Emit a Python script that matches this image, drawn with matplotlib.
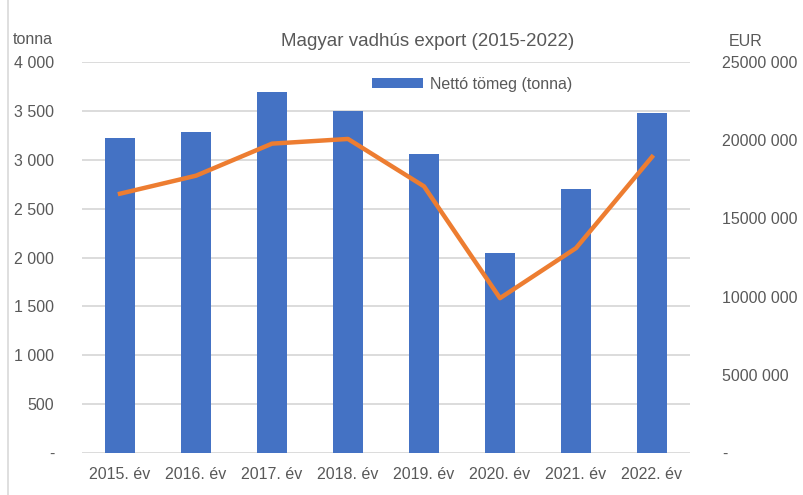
import matplotlib
matplotlib.use("Agg")
import numpy as np
from matplotlib import pyplot as plt
from matplotlib.lines import Line2D

years = ["2015. év", "2016. év", "2017. év", "2018. év",
         "2019. év", "2020. év", "2021. év", "2022. év"]
tonna = [3225, 3280, 3695, 3494, 3055, 2050, 2702, 3480]
eur = [16.58e6, 17.73e6, 19.78e6, 20.08e6, 17.05e6, 9.9e6, 13.1e6, 18.93e6]

left_ticks = [0, 500, 1000, 1500, 2000, 2500, 3000, 3500, 4000]
left_labels = ["-", "500", "1 000", "1 500", "2 000", "2 500", "3 000", "3 500", "4 000"]
right_ticks = [0, 5e6, 10e6, 15e6, 20e6, 25e6]
right_labels = ["-", "5000 000", "10000 000", "15000 000", "20000 000", "25000 000"]

grey = "#595959"
plt.rcParams["font.family"] = ["Liberation Sans", "DejaVu Sans"]

fig = plt.figure(figsize=(8.04, 4.95), dpi=100)
ax = fig.add_axes([82 / 804, 42 / 495, 608 / 804, 391 / 495])
x = np.arange(len(years))

bars = ax.bar(x, tonna, width=0.4, color="#4472C4", label="Nettó tömeg (tonna)", zorder=3)
ax.set_xlim(-0.5, len(years) - 0.5)
ax.set_ylim(0, 4000)
ax.set_yticks(left_ticks)
ax.set_yticklabels(left_labels)
ax.set_xticks(x)
ax.set_xticklabels(years)
ax.grid(axis="y", color="#D9D9D9", linewidth=1.3, zorder=0)
ax.tick_params(axis="both", length=0, labelsize=11.5, colors=grey)
ax.tick_params(axis="y", pad=20)
ax.tick_params(axis="x", pad=10)
for s in ax.spines.values():
    s.set_visible(False)

ax2 = ax.twinx()
ax2.plot(x, eur, color="#ED7D31", linewidth=3.2, solid_joinstyle="round", zorder=4)
ax2.set_ylim(0, 25e6)
ax2.set_yticks(right_ticks)
ax2.set_yticklabels(right_labels)
ax2.tick_params(axis="y", length=0, labelsize=11.5, colors=grey, pad=23)
for s in ax2.spines.values():
    s.set_visible(False)

ax2.legend([bars], ["Nettó tömeg (tonna)"], loc="center",
           bbox_to_anchor=(472 / 804, 1 - 84 / 495), bbox_transform=fig.transFigure,
           frameon=False, fontsize=11.5, labelcolor=grey, handlelength=3.2, handleheight=0.55,
           handletextpad=0.4)

fig.text(428 / 804, 1 - 42 / 495, "Magyar vadhús export (2015-2022)", ha="center", va="center",
         fontsize=13.5, color=grey)
fig.text(13 / 804, 1 - 40 / 495, "tonna", ha="left", va="center", fontsize=11.5, color=grey)
fig.text(746 / 804, 1 - 42 / 495, "EUR", ha="center", va="center", fontsize=11.5, color=grey)

fig.add_artist(Line2D([8 / 804, 8 / 804], [0, 1], transform=fig.transFigure,
                      color="#D9D9D9", linewidth=1.2))

fig.savefig("out.png", dpi=100)
